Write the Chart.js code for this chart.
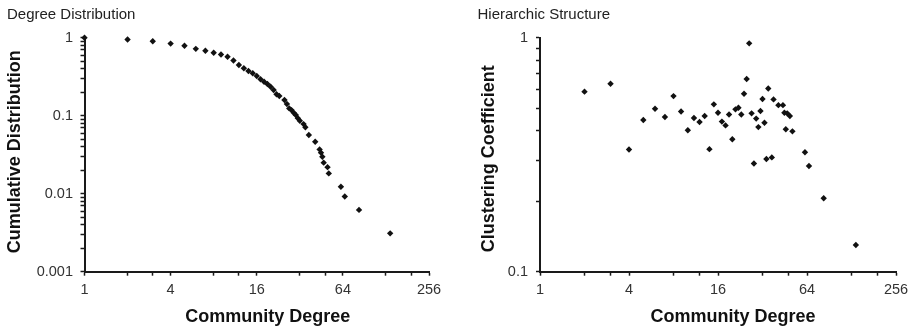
<!DOCTYPE html>
<html><head><meta charset="utf-8">
<script src="https://cdn.jsdelivr.net/npm/chart.js@4.4.1/dist/chart.umd.min.js"></script>
<style>
html,body{margin:0;padding:0;background:#fff;}
#wrap{position:relative;width:917px;height:328px;overflow:hidden;background:#fff;}
#c1{position:absolute;left:0;top:0;}
#c2{position:absolute;left:460px;top:0;}
</style></head><body>
<div id="wrap"><canvas id="c1" width="460" height="328"></canvas><canvas id="c2" width="457" height="328"></canvas></div>
<script>
// ---- data ----
const degreeX = [1,2,3,4,5,6,7,8,9,10,11,12,13,14,15,16,17,18,19,20,21,22,23,25,26,27,28,29,30,31,32,34,35,37,41,44,45,46,47,50,51,62,66,83,137];
const cumulativeY = [1,0.95,0.90,0.84,0.79,0.72,0.68,0.64,0.61,0.57,0.51,0.447,0.405,0.374,0.35,0.323,0.293,0.273,0.255,0.235,0.214,0.188,0.179,0.159,0.141,0.124,0.118,0.109,0.102,0.093,0.086,0.078,0.071,0.0566,0.0464,0.037,0.0336,0.0298,0.025,0.0219,0.0182,0.0123,0.0092,0.0062,0.0031];
const clusterX = [2,3,4,5,6,7,8,9,10,11,12,13,14,15,16,17,18,19,20,21,22,23,24,25,26,27,28,29,30,31,32,33,34,35,37,38,41,44,45,46,47,49,51,62,66,83,137];
const clusterY = [0.588,0.636,0.333,0.445,0.497,0.458,0.563,0.484,0.402,0.454,0.436,0.463,0.334,0.519,0.478,0.438,0.422,0.47,0.368,0.494,0.502,0.47,0.576,0.666,0.946,0.475,0.29,0.451,0.415,0.486,0.547,0.433,0.303,0.607,0.308,0.545,0.515,0.515,0.478,0.406,0.475,0.463,0.398,0.324,0.283,0.206,0.130];

const xTickValues = [1,2,3,4,8,12,16,32,48,64,128,192,256];
const xTickLabels = ['1','4','16','64','256'];
const yTickValuesLeft = [0.001,0.002,0.003,0.004,0.005,0.006,0.007,0.008,0.009,0.01,0.02,0.03,0.04,0.05,0.06,0.07,0.08,0.09,0.1,0.2,0.3,0.4,0.5,0.6,0.7,0.8,0.9,1];
const yTickLabelsLeft = ['0.001','0.01','0.1','1'];
const yTickValuesRight = [0.1,0.2,0.3,0.4,0.5,0.6,0.7,0.8,0.9,1];
const yTickLabelsRight = ['0.1','1'];

const FONT = "'Liberation Sans', Arial, Helvetica, sans-serif";
const AXIS = '#1a1a1a';

const axisTitles = {
  id: 'axisTitles',
  afterDraw(chart, args, o) {
    const {ctx, chartArea} = chart;
    ctx.save();
    ctx.fillStyle = '#111';
    ctx.font = 'bold 18px ' + FONT;
    ctx.textAlign = 'center';
    ctx.textBaseline = 'middle';
    ctx.fillText(o.xText, (chartArea.left + chartArea.right) / 2 + o.xShift, o.xY);
    ctx.translate(o.yX, (chartArea.top + chartArea.bottom) / 2 + o.yShift);
    ctx.rotate(-Math.PI / 2);
    ctx.fillText(o.yText, 0, 0);
    ctx.restore();
  }
};

function labelFor(list) {
  return (v) => { const s = list.find(l => Number(l) === v); return s === undefined ? '' : s; };
}

function makeChart(id, xs, ys, cfg) {
  return new Chart(document.getElementById(id), {
    type: 'scatter',
    data: { datasets: [{
      data: xs.map((x, i) => ({x: x, y: ys[i]})),
      pointStyle: 'rectRot', pointRadius: 3.2, pointHoverRadius: 3.2,
      pointBackgroundColor: '#111', pointBorderWidth: 0, clip: false, showLine: false
    }]},
    options: {
      responsive: false, animation: false, events: [],
      layout: { padding: { left: cfg.padLeft, right: cfg.padRight, top: 0, bottom: 0 } },
      plugins: {
        legend: { display: false }, tooltip: { enabled: false },
        title: { display: true, text: cfg.title, align: 'start', color: '#222',
          font: { family: FONT, size: 15, weight: 'normal', lineHeight: 1.2 },
          padding: { top: 5.5, bottom: 14.2 } },
        axisTitles: { xText: 'Community Degree', yText: cfg.yTitle, xShift: cfg.xShift, xY: 316.7, yX: cfg.yTitleX, yShift: cfg.yShift }
      },
      scales: {
        x: {
          type: 'logarithmic', min: 1, max: 256,
          afterBuildTicks: s => { s.ticks = xTickValues.map(v => ({value: v})); },
          afterFit: s => { s.height = 56.3; },
          ticks: { autoSkip: false, maxRotation: 0, minRotation: 0, padding: 6, color: '#333',
            font: { family: FONT, size: 14.5 }, callback: labelFor(xTickLabels) },
          grid: { display: true, drawOnChartArea: false, drawTicks: true, tickLength: 4, tickColor: AXIS, tickWidth: 1.5 },
          border: { display: true, color: AXIS, width: 2 }
        },
        y: {
          type: 'logarithmic', min: cfg.yMin, max: 1,
          afterBuildTicks: s => { s.ticks = cfg.yTicks.map(v => ({value: v})); },
          afterFit: s => { s.width = cfg.yWidth; },
          ticks: { autoSkip: false, padding: cfg.yPad, color: '#333',
            font: { family: FONT, size: 14.5 }, callback: labelFor(cfg.yLabels) },
          grid: { display: true, drawOnChartArea: false, drawTicks: true, tickLength: 4, tickColor: AXIS, tickWidth: 1.5 },
          border: { display: true, color: AXIS, width: 2 }
        }
      }
    },
    plugins: [axisTitles]
  });
}

makeChart('c1', degreeX, cumulativeY, {
  title: 'Degree Distribution', yTitle: 'Cumulative Distribution',
  padLeft: 7, padRight: 31, yWidth: 77.5, yPad: 7.5,
  yMin: 0.001, yTicks: yTickValuesLeft, yLabels: yTickLabelsLeft,
  xShift: 11, yTitleX: 15, yShift: -3
});
makeChart('c2', clusterX, clusterY, {
  title: 'Hierarchic Structure', yTitle: 'Clustering Coefficient',
  padLeft: 17.5, padRight: 21, yWidth: 62.5, yPad: 8,
  yMin: 0.1, yTicks: yTickValuesRight, yLabels: yTickLabelsRight,
  xShift: 15, yTitleX: 29, yShift: 4
});
</script>
</body></html>
